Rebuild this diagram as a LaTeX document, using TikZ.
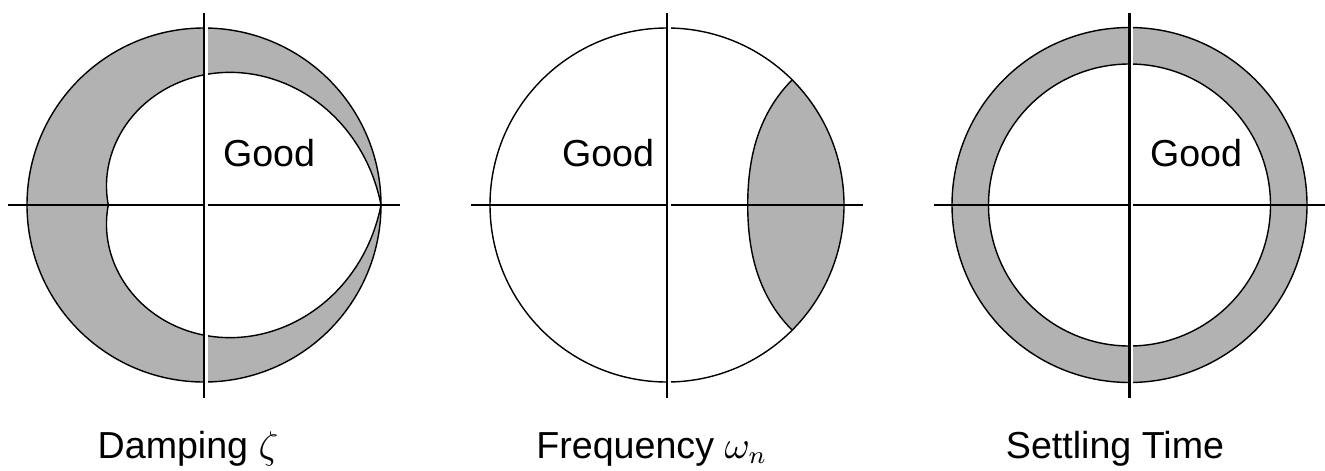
\documentclass[tikz,border=0pt]{standalone}
\usepackage{fontspec}
\setmainfont{Liberation Sans}
\usepackage{tikz}
\usetikzlibrary{positioning}
\definecolor{shadegray}{gray}{0.70}

\begin{document}
\begin{tikzpicture}[font=\fontsize{10.7}{12}\selectfont,
   ax/.style={line width=0.6pt},
   rim/.style={line width=0.4pt},
   gap/.style={white, line width=0.7pt, xshift=0.65pt},
   lbl/.style={anchor=base, inner sep=0pt}]
\useasboundingbox (0,0) rectangle (13.25,4.70);
% damping
\begin{scope}[shift={(2.04,2.65)}]
\fill[shadegray, even odd rule] (0,0) circle (1.77)
  plot[domain=-180:180, samples=181] ({\x}:{1.77*exp(-0.00342*abs(\x))}) -- cycle;
\draw[rim] (0,0) circle (1.77);
\draw[rim] plot[domain=-180:180, samples=181] ({\x}:{1.77*exp(-0.00342*abs(\x))}) -- cycle;
\draw[ax] (-1.96,0) -- (1.96,0);
\draw[gap] (0,-1.8) -- (0,1.8);
\draw[ax] (0,-1.93) -- (0,1.92);
\end{scope}
% frequency
\begin{scope}[shift={(6.67,2.65)}]
\fill[shadegray] plot[domain=-90:90, samples=91] ({45*sin(\x)}:{1.77*exp(-0.7854*cos(\x))})
  arc[start angle=45, end angle=-45, radius=1.77] -- cycle;
\draw[rim] (0,0) circle (1.77);
\draw[rim] plot[domain=-90:90, samples=91] ({45*sin(\x)}:{1.77*exp(-0.7854*cos(\x))});
\draw[ax] (-1.96,0) -- (1.96,0);
\draw[gap] (0,-1.8) -- (0,1.8);
\draw[ax] (0,-1.93) -- (0,1.92);
\end{scope}
% settling time
\begin{scope}[shift={(11.295,2.65)}]
\fill[shadegray, even odd rule] (0,0) circle (1.775) (0,0) circle (1.41);
\draw[rim] (0,0) circle (1.775);
\draw[rim] (0,0) circle (1.41);
\draw[ax] (-1.96,0) -- (1.96,0);
\draw[gap] (0,-1.8) -- (0,1.8);
\draw[ax] (0,-1.93) -- (0,1.92);
\end{scope}
% labels
\node (good1) at (2.69,3.17) {Good};
\node (good2) at (6.08,3.17) {Good};
\node (good3) at (11.96,3.17) {Good};
\node[lbl] (damp) at (1.88,0.12) {Damping $\zeta$};
\node[lbl] (freq) at (6.52,0.12) {Frequency $\omega_n$};
\node[lbl] (settle) at (11.15,0.12) {Settling Time};
\end{tikzpicture}
\end{document}
